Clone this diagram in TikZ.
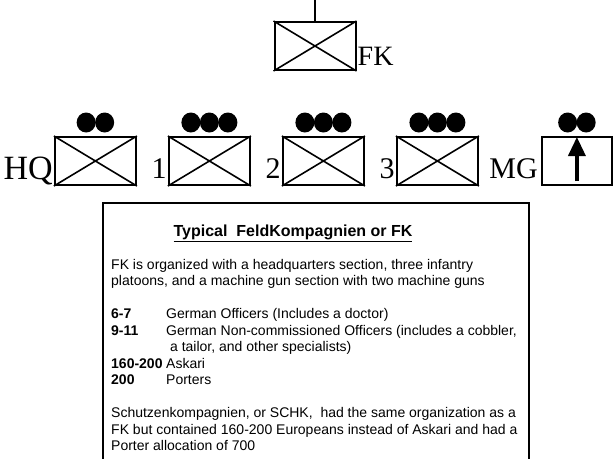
\documentclass[tikz,border=0pt]{standalone}
\usepackage{fontspec}
\setmainfont{Liberation Serif}
\newfontfamily\arial{Liberation Sans}
\usetikzlibrary{positioning, arrows.meta}

\tikzset{
  unit/.style={draw, line width=2pt, minimum width=81pt, minimum height=48pt, inner sep=0pt},
  unitlabel/.style={font=\fontsize{30}{30}\selectfont, inner sep=0pt},
  info/.style={font=\arial\fontsize{14}{16.5}\selectfont, align=left, inner sep=0pt}
}
% crossed box of an infantry unit
\newcommand{\infantry}[1]{\draw[line width=1.6pt] (#1.north west) -- (#1.south east) (#1.north east) -- (#1.south west);}
% size dots over a unit
\newcommand{\sizedots}[2]{\foreach \i in {1,...,#2}
  \fill ([xshift={(\i-(#2+1)/2)*18.5pt}, yshift=13.5pt]#1.north) circle [x radius=9.5pt, y radius=10pt];}
\newcommand{\nr}[1]{\makebox[55pt][l]{\bfseries #1}}

\begin{document}
\begin{tikzpicture}[x=1pt, y=-1pt]
    \useasboundingbox (0,0) rectangle (613,458);

    % company
    \node(fk)[unit] at (315,46) {};
    \infantry{fk}
    \coordinate (fktop) at (315,0);
    \draw[line width=2pt] (fk.north) -- (fktop);
    \node(fklab)[unitlabel, font=\fontsize{28}{28}\selectfont, anchor=base west] at ([xshift=1pt, yshift=6pt]fk.south east) {FK};

    % sections and platoons
    \node(hq)[unit] at (95.4,161) {};
    \node(p1)[unit, right=31pt of hq] {};
    \node(p2)[unit, right=31pt of p1] {};
    \node(p3)[unit, right=31pt of p2] {};
    \node(mg)[unit, minimum width=70pt, right=62pt of p3] {};

    \infantry{hq}
    \infantry{p1}
    \infantry{p2}
    \infantry{p3}
    \draw[line width=3.5pt, -{Triangle[width=17pt, length=19pt]}] ([yshift=5pt]mg.south) -- ([yshift=-1pt]mg.north);

    \sizedots{hq}{2}
    \sizedots{p1}{3}
    \sizedots{p2}{3}
    \sizedots{p3}{3}
    \sizedots{mg}{2}

    \node(hqlab)[unitlabel, font=\fontsize{34}{34}\selectfont, anchor=base east] at ([xshift=-1pt, yshift=7pt]hq.south west) {HQ};
    \node(p1lab)[unitlabel, anchor=base east] at ([xshift=-1pt, yshift=8pt]p1.south west) {1};
    \node(p2lab)[unitlabel, anchor=base east] at ([xshift=-1pt, yshift=8pt]p2.south west) {2};
    \node(p3lab)[unitlabel, anchor=base east] at ([xshift=-1pt, yshift=8pt]p3.south west) {3};
    \node(mglab)[unitlabel, anchor=base east] at ([xshift=-3pt, yshift=8pt]mg.south west) {MG};

    % info box, open at the bottom
    \coordinate (bl) at (103,460);
    \coordinate (tl) at (103,203);
    \coordinate (tr) at (529,203);
    \coordinate (br) at (529,460);
    \draw[line width=2pt] (bl) -- (tl) -- (tr) -- (br);

    \node(title)[font=\arial\bfseries\fontsize{16}{19}\selectfont, inner sep=0pt, anchor=base] at (293,236)
        {\underline{Typical\ \ FeldKompagnien or FK}};
    \node(info)[info, anchor=north west] at (111,258.8) {%
        FK is organized with a headquarters section, three infantry\\
        platoons, and a machine gun section with two machine guns\\[16.5pt]
        \nr{6-7}German Officers (Includes a doctor)\\
        \nr{9-11}German Non-commissioned Officers (includes a cobbler,\\
        \nr{}\ a tailor, and other specialists)\\
        \nr{160-200}Askari\\
        \nr{200}Porters\\[16.5pt]
        Schutzenkompagnien, or SCHK,\ \ had the same organization as a\\
        FK but contained 160-200 Europeans instead of Askari and had a\\
        Porter allocation of 700};

\end{tikzpicture}
\end{document}
